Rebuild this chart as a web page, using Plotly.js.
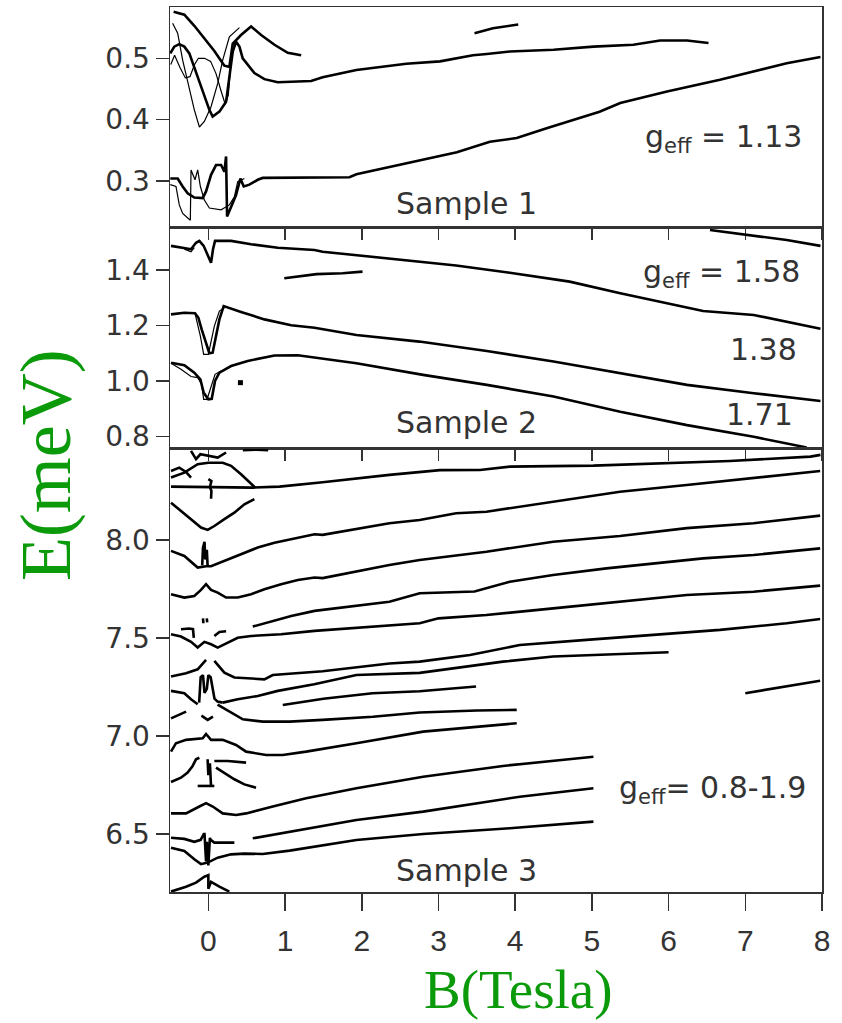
<!DOCTYPE html>
<html>
<head>
<meta charset="utf-8">
<script src="https://cdn.plot.ly/plotly-3.0.1.min.js"></script>
<style>
  html, body { margin: 0; padding: 0; background: #fff; }
  #chart { width: 842px; height: 1023px; }
</style>
</head>
<body>
<div id="chart"></div>
<script>
// ---------- Sample 1 : energy levels E (meV) vs field B (T) ----------
const s1LowThickB = [-0.496,-0.40,-0.335,-0.27,-0.183,-0.074,-0.03,0.035,0.10,0.166,0.209,0.231,0.244,0.296,0.361,0.418,0.461,0.535,0.644,0.709,1.84,1.93,2.755,2.79,3.24,3.67,4.02,4.41,5.10,5.37,5.98,6.67,7.54,7.98];
const s1LowThickE = [0.304,0.304,0.291,0.280,0.273,0.272,0.283,0.310,0.326,0.326,0.315,0.340,0.242,0.258,0.277,0.304,0.291,0.294,0.302,0.305,0.306,0.311,0.334,0.334,0.347,0.364,0.370,0.386,0.413,0.427,0.446,0.465,0.492,0.502];
const s1LowThinB = [-0.496,-0.422,-0.379,-0.335,-0.235,-0.226,-0.174,-0.139,-0.104,-0.052,0.013,0.166,0.274,0.339,0.383,0.47];
const s1LowThinE = [0.294,0.291,0.261,0.247,0.236,0.318,0.302,0.318,0.291,0.269,0.256,0.253,0.261,0.274,0.299,0.304];
const s1UpperAB = [-0.453,-0.313,-0.183,-0.052,0.078,0.209,0.274,0.318,0.426,0.557,0.688,0.862,1.035,1.21];
const s1UpperAE = [0.576,0.571,0.553,0.533,0.512,0.488,0.486,0.524,0.538,0.552,0.538,0.522,0.509,0.505];
const s1UpperBB = [-0.496,-0.444,-0.379,-0.313,-0.248,-0.161,-0.074,0.013,0.056,0.144,0.231,0.274,0.318,0.361,0.405,0.448,0.513,0.60,0.731,0.905,1.34,1.49,1.93,2.58,3.02,3.45,3.63,3.93,4.50,5.02,5.54,5.89,6.24,6.52];
const s1UpperBE = [0.508,0.519,0.523,0.519,0.508,0.478,0.446,0.416,0.405,0.413,0.429,0.467,0.511,0.527,0.519,0.500,0.489,0.476,0.466,0.461,0.463,0.469,0.481,0.491,0.495,0.505,0.507,0.511,0.514,0.519,0.522,0.529,0.529,0.525];
const s1TopSegB = [3.47,3.71,4.04];
const s1TopSegE = [0.541,0.549,0.555];
const s1ThinAB = [-0.466,-0.40,-0.335,-0.248,-0.183,-0.117,-0.052,0.035,0.122,0.187,0.274,0.405];
const s1ThinAE = [0.557,0.541,0.497,0.448,0.416,0.388,0.397,0.421,0.459,0.497,0.535,0.55];
const s1ThinBB = [-0.49,-0.44,-0.37,-0.30,-0.24,-0.18,-0.13,-0.05,0.03,0.10,0.17,0.22,0.26,0.30,0.35];
const s1ThinBE = [0.49,0.505,0.485,0.468,0.47,0.49,0.50,0.50,0.495,0.475,0.445,0.425,0.44,0.50,0.525];

// ---------- Sample 2 ----------
const s2TopB = [-0.487,-0.313,-0.226,-0.161,-0.117,-0.061,-0.017,0.035,0.061,0.087,0.296,0.557,0.905,1.384,1.49,2.36,3.23,3.93,4.71,5.37,6.45,7.11,7.98];
const s2TopE = [1.487,1.480,1.475,1.498,1.505,1.487,1.457,1.426,1.475,1.505,1.505,1.493,1.480,1.472,1.466,1.442,1.416,1.390,1.358,1.316,1.252,1.238,1.188];
const s2CornerB = [6.54,7.02,7.54,7.98];
const s2CornerE = [1.544,1.526,1.508,1.487];
const s2ShortB = [0.99,1.41,1.75,2.01];
const s2ShortE = [1.370,1.385,1.388,1.394];
const s2MidB = [-0.487,-0.313,-0.174,-0.13,-0.087,-0.03,0.013,0.056,0.1,0.144,0.2,0.274,0.426,0.731,1.08,1.384,1.93,2.75,3.63,4.50,5.37,6.24,7.11,7.98];
const s2MidE = [1.240,1.246,1.244,1.228,1.186,1.132,1.100,1.102,1.162,1.222,1.270,1.264,1.249,1.222,1.201,1.192,1.166,1.142,1.108,1.070,1.028,0.986,0.956,0.928];
const s2LowB = [-0.487,-0.313,-0.183,-0.104,-0.061,0.0,0.044,0.087,0.144,0.296,0.513,0.862,1.166,1.384,1.49,1.93,2.80,3.63,4.50,5.37,6.24,7.11,7.80];
const s2LowE = [1.066,1.057,1.030,1.006,0.958,0.934,0.936,1.000,1.030,1.054,1.072,1.092,1.093,1.084,1.082,1.064,1.022,0.986,0.944,0.889,0.841,0.799,0.760];
const s2MidThinB = [-0.174,-0.104,-0.061,0.0,0.078,0.144,0.209];
const s2MidThinE = [1.244,1.162,1.096,1.096,1.198,1.252,1.264];
const s2LowThinB = [-0.487,-0.357,-0.226,-0.139,-0.087,-0.061,-0.017,0.035,0.087,0.166];
const s2LowThinE = [1.064,1.042,1.016,1.012,0.988,0.934,0.934,0.982,1.024,1.036];
const s2TopThinB = [-0.313,-0.226,-0.183];
const s2TopThinE = [1.475,1.466,1.481];
const s2DotB = [0.418];
const s2DotE = [0.994];

// ---------- Sample 3 ----------
const s3L1B = [-0.487,0.579,0.927,1.49,2.36,3.02,3.54,3.93,5.02,5.80,6.80,7.85,7.98];
const s3L1E = [8.272,8.267,8.272,8.294,8.332,8.356,8.357,8.374,8.379,8.391,8.403,8.425,8.434];
const s3TopSegB = [0.45,0.62,0.78];
const s3TopSegE = [8.458,8.46,8.458];
const s3CrownAB = [-0.487,-0.379,-0.292,-0.226];
const s3CrownAE = [8.352,8.369,8.347,8.318];
const s3CrownBB = [-0.226,-0.161,-0.104,0.0,0.122,0.231];
const s3CrownBE = [8.454,8.412,8.437,8.429,8.42,8.446];
const s3CrownCB = [-0.487,-0.313,-0.139,0.0,0.187,0.296,0.426,0.535,0.61];
const s3CrownCE = [8.318,8.343,8.386,8.394,8.394,8.378,8.335,8.292,8.267];
const s3MarkB = [0.0,0.04,0.02,0.04,0.035];
const s3MarkE = [8.31,8.30,8.27,8.25,8.21];
const s3VB = [-0.487,-0.357,-0.226,-0.096,-0.009,0.078,0.209,0.339,0.47,0.6];
const s3VE = [8.19,8.148,8.106,8.063,8.051,8.071,8.106,8.139,8.182,8.208];
const s3L2B = [-0.487,-0.313,-0.139,-0.03,0.035,0.209,0.426,0.644,0.862,1.08,1.384,1.49,2.36,2.755,3.23,3.625,4.495,5.366,6.236,7.107,7.976];
const s3L2E = [7.944,7.918,7.859,7.866,7.866,7.893,7.927,7.961,7.986,8.003,8.029,8.026,8.085,8.102,8.136,8.144,8.195,8.246,8.28,8.315,8.352];
const s3L2JunkB = [-0.08,-0.07,-0.05,-0.04,-0.02,-0.01];
const s3L2JunkE = [7.87,7.96,7.99,7.90,7.95,7.87];
const s3L3B = [-0.487,-0.313,-0.183,-0.096,-0.03,0.035,0.122,0.231,0.383,0.557,0.731,0.948,1.166,1.384,1.49,2.36,2.755,3.23,3.625,4.495,5.366,6.236,7.107,7.976];
const s3L3E = [7.723,7.706,7.714,7.745,7.774,7.745,7.731,7.706,7.706,7.723,7.748,7.774,7.796,7.808,7.805,7.872,7.898,7.923,7.94,7.991,8.02,8.06,8.085,8.124];
const s3L4B = [0.579,0.818,1.08,1.384,2.36,2.755,3.47,3.93,4.495,5.19,5.80,6.45,7.107,7.976];
const s3L4E = [7.558,7.583,7.612,7.638,7.685,7.728,7.737,7.787,7.821,7.855,7.881,7.906,7.923,7.957];
const s3L5B = [-0.487,-0.357,-0.226,-0.139,-0.052,0.035,0.122,0.231,0.383,0.557,0.948,1.384,2.755,3.0,3.625,4.495,5.366,6.236,7.107,7.976];
const s3L5E = [7.519,7.507,7.48,7.451,7.48,7.468,7.451,7.473,7.501,7.51,7.519,7.536,7.575,7.60,7.617,7.651,7.685,7.719,7.736,7.767];
const s3L5JunkB = [-0.357,-0.25,-0.2,-0.19,null,-0.07,-0.065,null,-0.02,-0.015,null,0.078,0.144,0.231];
const s3L5JunkE = [7.544,7.548,7.545,7.50,null,7.60,7.575,null,7.60,7.58,null,7.51,7.53,7.534];
const s3L6B = [-0.487,-0.291,-0.139,-0.03,null,0.078,0.209,0.34,0.73,0.84,1.49,2.36,2.755,3.41,4.06,4.93,5.80,6.67,7.54,7.976];
const s3L6E = [7.303,7.32,7.34,7.388,null,7.383,7.323,7.298,7.289,7.311,7.33,7.37,7.379,7.413,7.464,7.49,7.515,7.541,7.575,7.597];
const s3L7B = [-0.487,-0.313,-0.226,-0.139,null,0.187,0.383,0.644,0.905,1.38,1.93,2.755,3.19,3.84,4.495,6.0];
const s3L7E = [7.23,7.218,7.187,7.162,null,7.17,7.187,7.204,7.23,7.264,7.311,7.322,7.345,7.379,7.405,7.427];
const s3L7JunkB = [-0.12,-0.1,-0.07,-0.05,-0.02,0.0,0.03,0.06,0.08,0.12,0.187];
const s3L7JunkE = [7.17,7.30,7.31,7.22,7.24,7.31,7.30,7.22,7.19,7.175,7.17];
const s3L8B = [0.97,1.5,2.14,2.755,3.49];
const s3L8E = [7.158,7.19,7.218,7.228,7.252];
const s3L9B = [0.12,0.3,0.45,0.71,1.06,1.49,2.145,2.755,3.5,4.02];
const s3L9E = [7.16,7.12,7.085,7.073,7.073,7.082,7.098,7.12,7.13,7.133];
const s3L9BitsB = [-0.487,-0.29,null,-0.09,-0.009,0.06];
const s3L9BitsE = [7.09,7.124,null,7.104,7.082,7.099];
const s3L10B = [-0.487,-0.422,-0.291,-0.074,-0.03,0.035,0.187,0.361,0.492,0.753,0.97,1.275,1.93,2.80,4.02];
const s3L10E = [6.92,6.963,6.98,6.988,7.01,6.98,6.98,6.954,6.92,6.903,6.903,6.92,6.963,7.022,7.065];
const s3L11B = [-0.487,-0.357,-0.27,-0.205,-0.161,-0.117,null,0.078,0.253,0.492,null,0.1,0.231,0.339,0.47,0.622];
const s3L11E = [6.765,6.787,6.813,6.847,6.881,6.889,null,6.872,6.872,6.864,null,6.838,6.804,6.779,6.753,6.736];
const s3L11JunkB = [-0.01,0.0,0.02,0.035,null,-0.139,0.078];
const s3L11JunkE = [6.881,6.80,6.86,6.745,null,6.745,6.745];
const s3L12B = [-0.487,-0.291,-0.117,-0.03,0.057,0.187,0.361,0.492,0.84,1.275,1.93,2.80,3.84,5.02];
const s3L12E = [6.605,6.605,6.64,6.657,6.64,6.605,6.597,6.605,6.64,6.682,6.733,6.792,6.847,6.894];
const s3L13B = [0.579,1.06,1.93,2.8,4.06,5.02];
const s3L13E = [6.478,6.512,6.571,6.614,6.69,6.733];
const s3L14B = [-0.487,-0.313,-0.183,-0.096,-0.009,0.122,0.296,0.47,0.71,1.06,1.93,2.8,3.93,5.02];
const s3L14E = [6.43,6.413,6.371,6.346,6.354,6.379,6.396,6.40,6.398,6.415,6.469,6.5,6.529,6.563];
const s3L14JunkB = [-0.487,-0.313,-0.183,-0.1,-0.06,-0.05,-0.03,-0.02,0.0,0.02,0.03,0.078,0.339];
const s3L14JunkE = [6.481,6.475,6.46,6.47,6.50,6.50,6.36,6.46,6.34,6.48,6.47,6.456,6.456];
const s3L15B = [-0.487,-0.291,-0.161,-0.052,0.0,0.0,0.035,0.144,0.274];
const s3L15E = [6.206,6.231,6.252,6.282,6.29,6.22,6.256,6.231,6.206];
const s3EdgeB = [7.0,7.5,7.976];
const s3EdgeE = [7.218,7.252,7.282];

// tick positions and labels
const bTicks = [0,1,2,3,4,5,6,7,8];
const e1Ticks = [0.3,0.4,0.5];
const e2Ticks = [0.8,1.0,1.2,1.4];
const e3Ticks = [6.5,7.0,7.5,8.0];

const THICK = 2.6, THIN = 1.2;
const traces = [];
function line(xs, ys, panel, width) {
  const sfx = panel === 1 ? '' : String(panel);
  traces.push({
    type: 'scatter', mode: 'lines', x: xs, y: ys,
    xaxis: 'x' + sfx, yaxis: 'y' + sfx,
    line: { color: '#000', width: width, shape: 'linear' },
    connectgaps: false, hoverinfo: 'skip', showlegend: false
  });
}

// Sample 1
line(s1LowThickB, s1LowThickE, 1, THICK);
line(s1LowThinB, s1LowThinE, 1, THIN);
line(s1UpperAB, s1UpperAE, 1, THICK);
line(s1UpperBB, s1UpperBE, 1, THICK);
line(s1TopSegB, s1TopSegE, 1, THICK);
line(s1ThinAB, s1ThinAE, 1, THIN);
line(s1ThinBB, s1ThinBE, 1, THIN);

// Sample 2
line(s2TopB, s2TopE, 2, THICK);
line(s2CornerB, s2CornerE, 2, THICK);
line(s2ShortB, s2ShortE, 2, THICK);
line(s2MidB, s2MidE, 2, THICK);
line(s2LowB, s2LowE, 2, THICK);
line(s2MidThinB, s2MidThinE, 2, THIN);
line(s2LowThinB, s2LowThinE, 2, THIN);
line(s2TopThinB, s2TopThinE, 2, THIN);
traces.push({
  type: 'scatter', mode: 'markers', x: s2DotB, y: s2DotE, xaxis: 'x2', yaxis: 'y2',
  marker: { symbol: 'square', size: 5, color: '#000' }, hoverinfo: 'skip', showlegend: false
});

// Sample 3
[[s3L1B, s3L1E], [s3TopSegB, s3TopSegE], [s3CrownAB, s3CrownAE], [s3CrownBB, s3CrownBE],
 [s3CrownCB, s3CrownCE], [s3MarkB, s3MarkE], [s3VB, s3VE], [s3L2B, s3L2E], [s3L2JunkB, s3L2JunkE],
 [s3L3B, s3L3E], [s3L4B, s3L4E], [s3L5B, s3L5E], [s3L5JunkB, s3L5JunkE], [s3L6B, s3L6E],
 [s3L7B, s3L7E], [s3L7JunkB, s3L7JunkE], [s3L8B, s3L8E], [s3L9B, s3L9E], [s3L9BitsB, s3L9BitsE],
 [s3L10B, s3L10E], [s3L11B, s3L11E], [s3L11JunkB, s3L11JunkE], [s3L12B, s3L12E], [s3L13B, s3L13E],
 [s3L14B, s3L14E], [s3L14JunkB, s3L14JunkE], [s3L15B, s3L15E], [s3EdgeB, s3EdgeE]
].forEach(p => line(p[0], p[1], 3, THICK));

const FRAME = '#333';
function xAxis(anchor, labels) {
  return {
    domain: [0, 1], anchor: anchor, range: [-0.5, 8],
    tickmode: 'array', tickvals: bTicks, ticktext: bTicks.map(String),
    ticks: 'outside', ticklen: labels ? 17 : 11, tickwidth: 1.5, tickcolor: FRAME,
    showticklabels: labels, ticklabelstandoff: labels ? 4 : 0,
    tickfont: { family: 'Liberation Sans Narrow, Liberation Sans, Arial, sans-serif', size: 30, color: '#333' },
    showline: true, linecolor: FRAME, linewidth: 1.5, mirror: true,
    showgrid: false, zeroline: false, fixedrange: true
  };
}
function yAxis(anchor, domain, range, vals) {
  return {
    domain: domain, anchor: anchor, range: range,
    tickmode: 'array', tickvals: vals, ticktext: vals.map(v => v.toFixed(1)),
    ticks: 'outside', ticklen: 13, tickwidth: 1.5, tickcolor: FRAME,
    tickfont: { family: 'DejaVu Sans, sans-serif', size: 28, color: '#333' },
    showline: true, linecolor: FRAME, linewidth: 1.5, mirror: true,
    showgrid: false, zeroline: false, fixedrange: true
  };
}

const noteFont = { family: 'DejaVu Sans, sans-serif', size: 30, color: '#333' };
function note(text, x, y, panel, xanchor) {
  const sfx = panel === 1 ? '' : String(panel);
  return { text: text, x: x, y: y, xref: 'x' + sfx, yref: 'y' + sfx,
           xanchor: xanchor, yanchor: 'middle', showarrow: false, font: noteFont };
}

const layout = {
  width: 842, height: 1023,
  margin: { l: 170, r: 20, t: 7, b: 131 },
  paper_bgcolor: '#fff', plot_bgcolor: '#fff',
  showlegend: false,
  xaxis: xAxis('y', false),
  xaxis2: xAxis('y2', false),
  xaxis3: xAxis('y3', true),
  yaxis: yAxis('x', [0.7503, 1], [0.2234, 0.5836], e1Ticks),
  yaxis2: yAxis('x2', [0.5006, 0.7503], [0.755, 1.5514], e2Ticks),
  yaxis3: yAxis('x3', [0, 0.5006], [6.204, 8.464], e3Ticks),
  annotations: [
    note('Sample 1', 3.37, 0.264, 1, 'center'),
    note('g<sub>eff</sub> = 1.13', 7.76, 0.37, 1, 'right'),
    note('Sample 2', 3.37, 0.852, 2, 'center'),
    note('g<sub>eff</sub> = 1.58', 7.74, 1.387, 2, 'right'),
    note('1.38', 7.70, 1.1135, 2, 'right'),
    note('1.71', 7.65, 0.8775, 2, 'right'),
    note('Sample 3', 3.37, 6.316, 3, 'center'),
    note('g<sub>eff</sub>= 0.8-1.9', 7.82, 6.725, 3, 'right'),
    { text: 'E(meV)', xref: 'paper', yref: 'paper', x: -0.19, y: 0.4825,
      xanchor: 'center', yanchor: 'middle', textangle: -90, showarrow: false,
      font: { family: 'Liberation Serif, Times New Roman, serif', size: 72, color: '#0a9a0a' } },
    { text: 'B(Tesla)', xref: 'paper', yref: 'paper', x: 0.534, y: -0.1465,
      xanchor: 'center', yanchor: 'bottom', showarrow: false,
      font: { family: 'Liberation Serif, Times New Roman, serif', size: 55, color: '#0a9a0a' } }
  ]
};

Plotly.newPlot('chart', traces, layout, { displayModeBar: false, staticPlot: true });
</script>
</body>
</html>
